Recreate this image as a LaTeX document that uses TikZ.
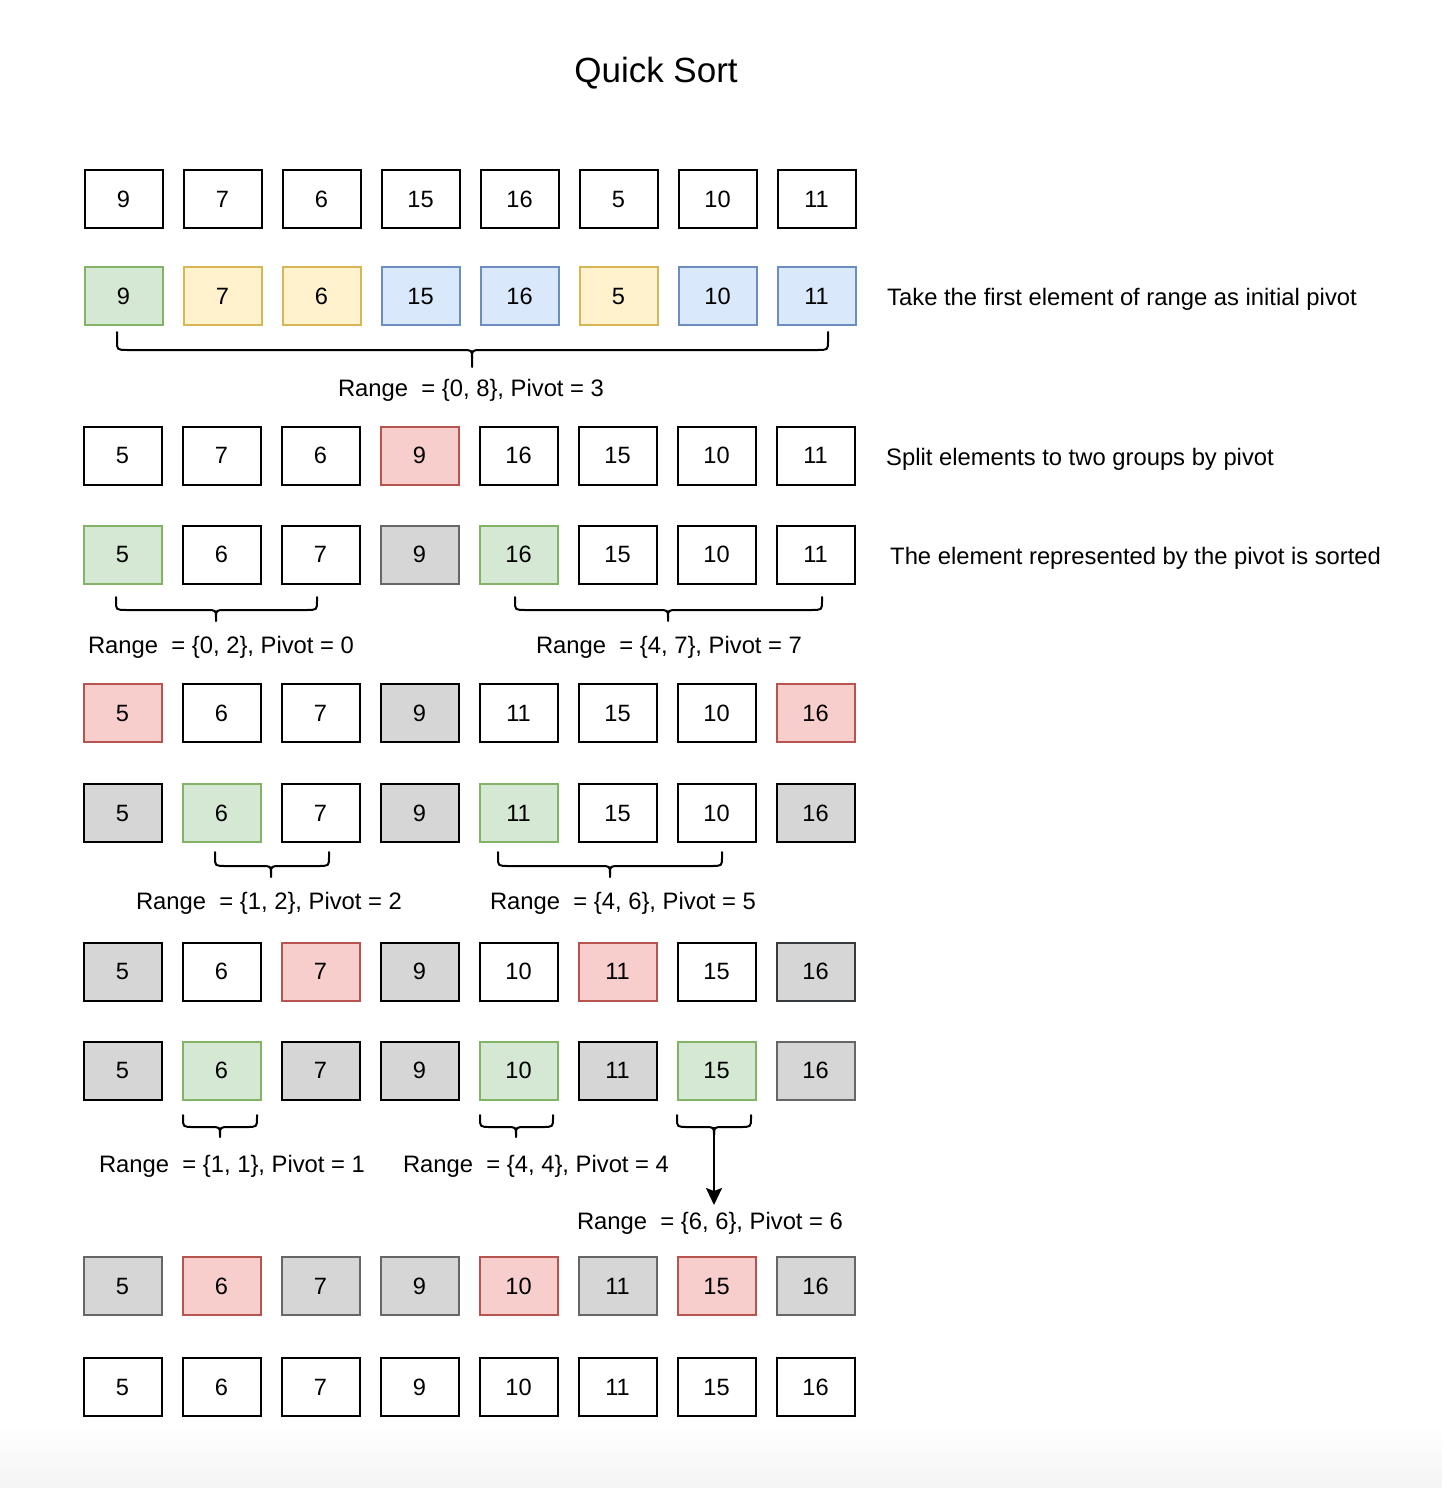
\documentclass[tikz,border=0pt]{standalone}
\usepackage{fontspec}
\setmainfont{Liberation Sans}
\usetikzlibrary{arrows.meta}
\definecolor{gfill}{HTML}{D5E8D4}\definecolor{gline}{HTML}{82B366}
\definecolor{yfill}{HTML}{FFF2CC}\definecolor{yline}{HTML}{D6B656}
\definecolor{bfill}{HTML}{DAE8FC}\definecolor{bline}{HTML}{6C8EBF}
\definecolor{rfill}{HTML}{F8CECC}\definecolor{rline}{HTML}{B85450}
\definecolor{kfill}{HTML}{D6D6D6}\definecolor{kline}{HTML}{666666}
\definecolor{kdark}{HTML}{36393D}
\definecolor{bgbot}{HTML}{F4F4F4}
\tikzset{
  cell/.style={draw=black, fill=white, line width=2pt, minimum width=78pt, minimum height=58pt, inner sep=0pt, font=\fontsize{23.6}{27}\selectfont},
  W/.style={cell},
  G/.style={cell, fill=gfill, draw=gline},
  Y/.style={cell, fill=yfill, draw=yline},
  B/.style={cell, fill=bfill, draw=bline},
  R/.style={cell, fill=rfill, draw=rline},
  K/.style={cell, fill=kfill, draw=kline},
  KB/.style={cell, fill=kfill, draw=black},
  KD/.style={cell, fill=kfill, draw=kdark},
  caption/.style={inner sep=0pt, yshift=-2.5pt, font=\fontsize{23.8}{27}\selectfont},
  bracestyle/.style={line width=2pt, line cap=round},
}
\newcommand{\qsrow}[4]{% name, x of first left edge, y centre, list of style/value
  \foreach \st/\val [count=\i from 0] in {#4} {
    \node[\st] (#1c\i) at ({#2+39.5+99*\i},#3+0.8) {\val};
  }
}
\newcommand{\qsbrace}[6]{% xl xr xm ytop yh ytip
  \draw[bracestyle] (#1,#4) -- (#1,#5-9) .. controls (#1,#5) .. (#1+11,#5) -- (#3-10,#5) .. controls (#3,#5) .. (#3,#5+8) -- (#3,#6);
  \draw[bracestyle] (#2,#4) -- (#2,#5-9) .. controls (#2,#5) .. (#2-11,#5) -- (#3+10,#5) .. controls (#3,#5) .. (#3,#5+8);
}
\begin{document}
\begin{tikzpicture}[x=1pt,y=-1pt]
\useasboundingbox (0,0) rectangle (1442,1488);
\shade[top color=white, bottom color=bgbot] (0,1425) rectangle (1442,1488);

\node[inner sep=0pt, font=\fontsize{35}{40}\selectfont] (title) at (656,73) {Quick Sort};

\qsrow{ra}{84}{198.5}{W/9,W/7,W/6,W/15,W/16,W/5,W/10,W/11}
\qsrow{rb}{84}{295.5}{G/9,Y/7,Y/6,B/15,B/16,Y/5,B/10,B/11}
\qsrow{rc}{83}{455}{W/5,W/7,W/6,R/9,W/16,W/15,W/10,W/11}
\qsrow{rd}{83}{554}{G/5,W/6,W/7,K/9,G/16,W/15,W/10,W/11}
\qsrow{re}{83}{712.5}{R/5,W/6,W/7,KB/9,W/11,W/15,W/10,R/16}
\qsrow{rf}{83}{812.5}{KB/5,G/6,W/7,KB/9,G/11,W/15,W/10,KB/16}
\qsrow{rg}{83}{971}{KB/5,W/6,R/7,KB/9,W/10,R/11,W/15,KD/16}
\qsrow{rh}{83}{1070}{KB/5,G/6,KB/7,KB/9,G/10,KB/11,G/15,K/16}
\qsrow{ri}{83}{1285.5}{K/5,R/6,K/7,K/9,R/10,K/11,R/15,K/16}
\qsrow{rj}{83}{1386.5}{W/5,W/6,W/7,W/9,W/10,W/11,W/15,W/16}

% side notes
\node[caption, anchor=west] (n1) at (887,297) {Take the first element of range as initial pivot};
\node[caption, anchor=west] (n2) at (886,457) {Split elements to two groups by pivot};
\node[caption, anchor=west] (n3) at (890,556) {The element represented by the pivot is sorted};

% braces
\qsbrace{117}{828}{472}{332}{350}{367}
\qsbrace{116}{317}{216}{597}{610}{621}
\qsbrace{515}{822}{668}{597}{610}{621}
\qsbrace{215}{329}{271}{852}{866}{877}
\qsbrace{498}{722}{610}{852}{866}{877}
\qsbrace{183}{257}{220}{1115}{1127}{1137}
\qsbrace{480}{553}{516}{1115}{1127}{1137}
\qsbrace{677}{751}{714}{1115}{1127}{1130}

% range labels
\node[caption] (l1) at (471,388) {Range~ = \{0, 8\}, Pivot = 3};
\node[caption] (l2) at (221,645) {Range~ = \{0, 2\}, Pivot = 0};
\node[caption] (l3) at (669,645) {Range~ = \{4, 7\}, Pivot = 7};
\node[caption] (l4) at (269,901) {Range~ = \{1, 2\}, Pivot = 2};
\node[caption] (l5) at (623,901) {Range~ = \{4, 6\}, Pivot = 5};
\node[caption] (l6) at (232,1164) {Range~ = \{1, 1\}, Pivot = 1};
\node[caption] (l7) at (536,1164) {Range~ = \{4, 4\}, Pivot = 4};
\node[caption] (l8) at (710,1221) {Range~ = \{6, 6\}, Pivot = 6};

\coordinate (tip8) at (714,1127);
\coordinate (end8) at (714,1205);
\draw[line width=2pt, -{Stealth[length=17pt,width=16pt,inset=3pt]}] (tip8) -- (end8);
\end{tikzpicture}
\end{document}
